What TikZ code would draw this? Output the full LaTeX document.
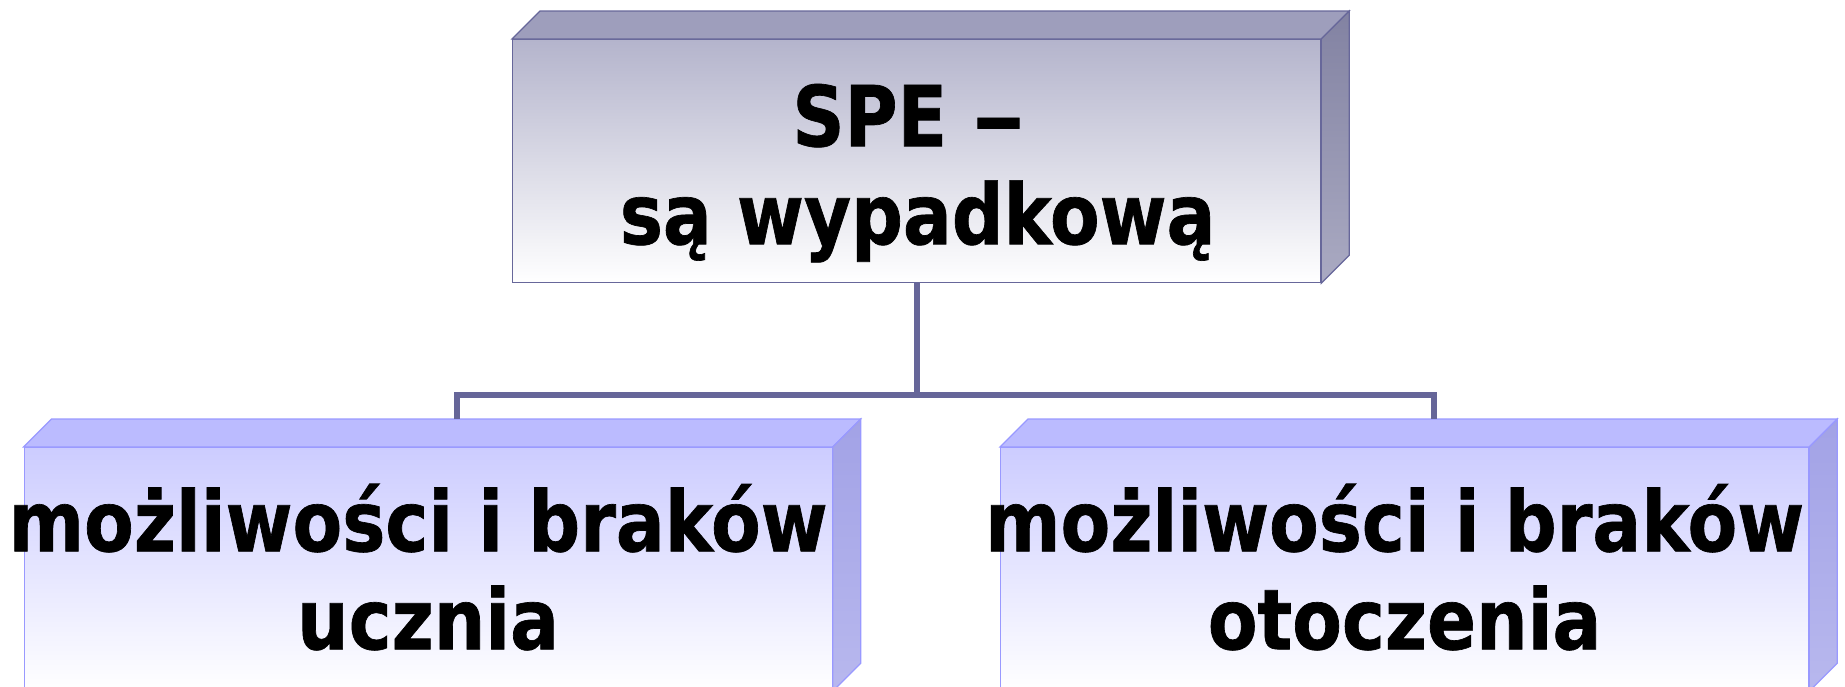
\documentclass[tikz,border=0pt]{standalone}
\usepackage{fontspec}
\newfontfamily\boxfont{DejaVu Sans}[FakeStretch=0.862, FakeBold=0.8]
\usetikzlibrary{positioning,calc}
\definecolor{topedge}{HTML}{67679A}
\definecolor{topfront}{HTML}{B4B4CC}
\definecolor{toplid}{HTML}{9E9EBC}
\definecolor{topsideA}{HTML}{8282A2}
\definecolor{topsideB}{HTML}{AAAAC2}
\definecolor{subedge}{HTML}{9999FF}
\definecolor{subfront}{HTML}{CCCCFF}
\definecolor{sublid}{HTML}{BBBBFF}
\definecolor{subsideA}{HTML}{A2A2E6}
\definecolor{subsideB}{HTML}{B8B8EE}
\definecolor{conn}{HTML}{666699}

\begin{document}
\begin{tikzpicture}[x=1pt, y=-1pt,
    front/.style={draw=#1, line width=1.2pt, minimum width=808pt, minimum height=243pt,
      inner sep=0pt, anchor=north west},
    lbl/.style={font={\boxfont\bfseries\fontsize{84}{98}\selectfont}, align=center, text=black},
    link/.style={draw=conn, line width=6pt}]
  \path[use as bounding box, clip] (0,0) rectangle (1845,686);

  % top box
  \node[front=topedge, top color=topfront, bottom color=white] (spe) at (512,39) {};
  \filldraw[fill=toplid, draw=topedge, line width=1.2pt] (spe.north west) -- ++(28,-28)
    -- ($(spe.north east)+(28,-28)$) -- (spe.north east) -- cycle;
  \shadedraw[top color=topsideA, bottom color=topsideB, draw=topedge, line width=1.2pt]
    (spe.north east) -- ++(28,-28) -- ($(spe.south east)+(28,-28)$) -- (spe.south east) -- cycle;
  \node[lbl] (speTxt) at ($(spe.center)+(1,12)$) {SPE \scalebox{1.45}[1]{–}\hspace*{18pt}\\są wypadkową};

  % bottom boxes
  \foreach \name/\x/\txt in {uczen/23.5/{możliwości i braków\hspace*{20pt}\\ucznia},
                             otocz/1000/{możliwości i braków\hspace*{20pt}\\otoczenia}} {
    \node[front=subedge, top color=subfront, bottom color=white] (\name) at (\x,447) {};
    \filldraw[fill=sublid, draw=subedge, line width=1.2pt] (\name.north west) -- ++(28,-28)
      -- ($(\name.north east)+(28,-28)$) -- (\name.north east) -- cycle;
    \shadedraw[top color=subsideA, bottom color=subsideB, draw=subedge, line width=1.2pt]
      (\name.north east) -- ++(28,-28) -- ($(\name.south east)+(28,-28)$) -- (\name.south east) -- cycle;
    \coordinate (\name-lid) at ($(\name.north)+(29,-28)$);
    \node[lbl] (\name-txt) at ($(\name.center)+(0,-2)$) {\txt};
  };

  % connectors
  \coordinate (barL) at (uczen-lid |- 0,395);
  \coordinate (barR) at (otocz-lid |- 0,395);
  \draw[link] (spe.south) -- (spe.south |- barL);
  \draw[link] (uczen-lid) -- (barL) -- (barR) -- (otocz-lid);
\end{tikzpicture}
\end{document}
